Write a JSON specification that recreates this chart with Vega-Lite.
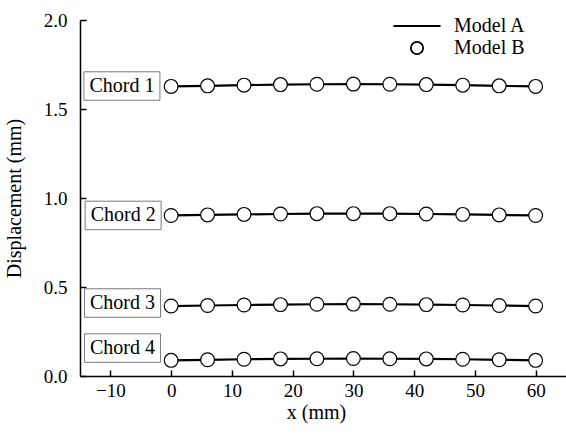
{
  "$schema": "https://vega.github.io/schema/vega-lite/v6.json",
  "width": 486,
  "height": 356,
  "autosize": {"type": "none"},
  "padding": {"left": 80, "top": 20, "right": 0, "bottom": 59},
  "background": "white",
  "config": {
    "view": {"stroke": null},
    "font": "Liberation Serif",
    "axis": {
      "grid": false,
      "domainColor": "black",
      "domainWidth": 1.5,
      "tickColor": "black",
      "tickWidth": 1.5,
      "tickSize": -6,
      "labelFont": "Liberation Serif",
      "labelFontSize": 19,
      "labelColor": "black",
      "labelFlush": false,
      "labelOverlap": false,
      "titleFont": "Liberation Serif",
      "titleFontSize": 20,
      "titleFontWeight": "normal",
      "titleColor": "black"
    }
  },
  "datasets": {
    "main": [
      {"chord": "Chord 1", "x": 0, "disp": 1.627}, {"chord": "Chord 1", "x": 6, "disp": 1.630}, {"chord": "Chord 1", "x": 12, "disp": 1.634}, {"chord": "Chord 1", "x": 18, "disp": 1.637}, {"chord": "Chord 1", "x": 24, "disp": 1.639}, {"chord": "Chord 1", "x": 30, "disp": 1.640}, {"chord": "Chord 1", "x": 36, "disp": 1.639}, {"chord": "Chord 1", "x": 42, "disp": 1.637}, {"chord": "Chord 1", "x": 48, "disp": 1.634}, {"chord": "Chord 1", "x": 54, "disp": 1.630}, {"chord": "Chord 1", "x": 60, "disp": 1.627},
      {"chord": "Chord 2", "x": 0, "disp": 0.902}, {"chord": "Chord 2", "x": 6, "disp": 0.905}, {"chord": "Chord 2", "x": 12, "disp": 0.908}, {"chord": "Chord 2", "x": 18, "disp": 0.910}, {"chord": "Chord 2", "x": 24, "disp": 0.912}, {"chord": "Chord 2", "x": 30, "disp": 0.912}, {"chord": "Chord 2", "x": 36, "disp": 0.912}, {"chord": "Chord 2", "x": 42, "disp": 0.910}, {"chord": "Chord 2", "x": 48, "disp": 0.908}, {"chord": "Chord 2", "x": 54, "disp": 0.905}, {"chord": "Chord 2", "x": 60, "disp": 0.902},
      {"chord": "Chord 3", "x": 0, "disp": 0.393}, {"chord": "Chord 3", "x": 6, "disp": 0.396}, {"chord": "Chord 3", "x": 12, "disp": 0.399}, {"chord": "Chord 3", "x": 18, "disp": 0.401}, {"chord": "Chord 3", "x": 24, "disp": 0.403}, {"chord": "Chord 3", "x": 30, "disp": 0.404}, {"chord": "Chord 3", "x": 36, "disp": 0.403}, {"chord": "Chord 3", "x": 42, "disp": 0.401}, {"chord": "Chord 3", "x": 48, "disp": 0.399}, {"chord": "Chord 3", "x": 54, "disp": 0.396}, {"chord": "Chord 3", "x": 60, "disp": 0.393},
      {"chord": "Chord 4", "x": 0, "disp": 0.088}, {"chord": "Chord 4", "x": 6, "disp": 0.091}, {"chord": "Chord 4", "x": 12, "disp": 0.094}, {"chord": "Chord 4", "x": 18, "disp": 0.096}, {"chord": "Chord 4", "x": 24, "disp": 0.097}, {"chord": "Chord 4", "x": 30, "disp": 0.098}, {"chord": "Chord 4", "x": 36, "disp": 0.097}, {"chord": "Chord 4", "x": 42, "disp": 0.096}, {"chord": "Chord 4", "x": 48, "disp": 0.094}, {"chord": "Chord 4", "x": 54, "disp": 0.091}, {"chord": "Chord 4", "x": 60, "disp": 0.088}
    ],
    "labels": [
      {"label": "Chord 1", "x": -8.1, "disp": 1.629},
      {"label": "Chord 2", "x": -7.9, "disp": 0.902},
      {"label": "Chord 3", "x": -8.0, "disp": 0.41},
      {"label": "Chord 4", "x": -8.0, "disp": 0.157}
    ],
    "models": [
      {"model": "Model A"},
      {"model": "Model B"}
    ]
  },
  "layer": [
    {
      "data": {"name": "main"},
      "mark": {"type": "line", "color": "black", "strokeWidth": 2.2},
      "encoding": {
        "x": {
          "field": "x", "type": "quantitative",
          "scale": {"domain": [-15, 65], "nice": false, "zero": false},
          "axis": {"title": "x (mm)", "values": [-10, 0, 10, 20, 30, 40, 50, 60], "labelPadding": 11, "titlePadding": 2, "titleX": 236}
        },
        "y": {
          "field": "disp", "type": "quantitative",
          "scale": {"domain": [0, 2], "nice": false, "zero": false},
          "axis": {"title": "Displacement (mm)", "values": [0, 0.5, 1, 1.5, 2], "format": ".1f", "labelPadding": 19, "titlePadding": 19}
        },
        "detail": {"field": "chord"}
      }
    },
    {
      "data": {"name": "main"},
      "mark": {"type": "point", "shape": "circle", "fill": "white", "stroke": "black", "strokeWidth": 1.2, "size": 190, "opacity": 1, "fillOpacity": 1},
      "encoding": {
        "x": {"field": "x", "type": "quantitative"},
        "y": {"field": "disp", "type": "quantitative"}
      }
    },
    {
      "data": {"name": "models"},
      "mark": {"type": "point", "filled": false, "color": "black", "opacity": 0},
      "encoding": {
        "shape": {
          "field": "model", "type": "nominal",
          "scale": {"domain": ["Model A", "Model B"], "range": ["M-3.84,0H3.84", "circle"]},
          "legend": {
            "title": null,
            "orient": "none",
            "legendX": 327,
            "legendY": -4,
            "padding": 0,
            "symbolSize": 150,
            "symbolOpacity": 1,
            "symbolStrokeWidth": 1.8,
            "symbolFillColor": "white",
            "symbolStrokeColor": "black",
            "labelFont": "Liberation Serif",
            "labelFontSize": 20,
            "labelColor": "black",
            "labelOffset": 27,
            "rowPadding": 2
          }
        }
      }
    },
    {
      "data": {"name": "labels"},
      "mark": {"type": "point", "shape": "M-1,-0.375H1V0.375H-1Z", "size": 5776, "fill": "white", "stroke": "#7a7a7a", "strokeWidth": 1, "opacity": 1, "fillOpacity": 1},
      "encoding": {
        "x": {"field": "x", "type": "quantitative"},
        "y": {"field": "disp", "type": "quantitative"}
      }
    },
    {
      "data": {"name": "labels"},
      "mark": {"type": "text", "font": "Liberation Serif", "fontSize": 20, "color": "black", "align": "center", "baseline": "middle"},
      "encoding": {
        "x": {"field": "x", "type": "quantitative"},
        "y": {"field": "disp", "type": "quantitative"},
        "text": {"field": "label"}
      }
    }
  ]
}
